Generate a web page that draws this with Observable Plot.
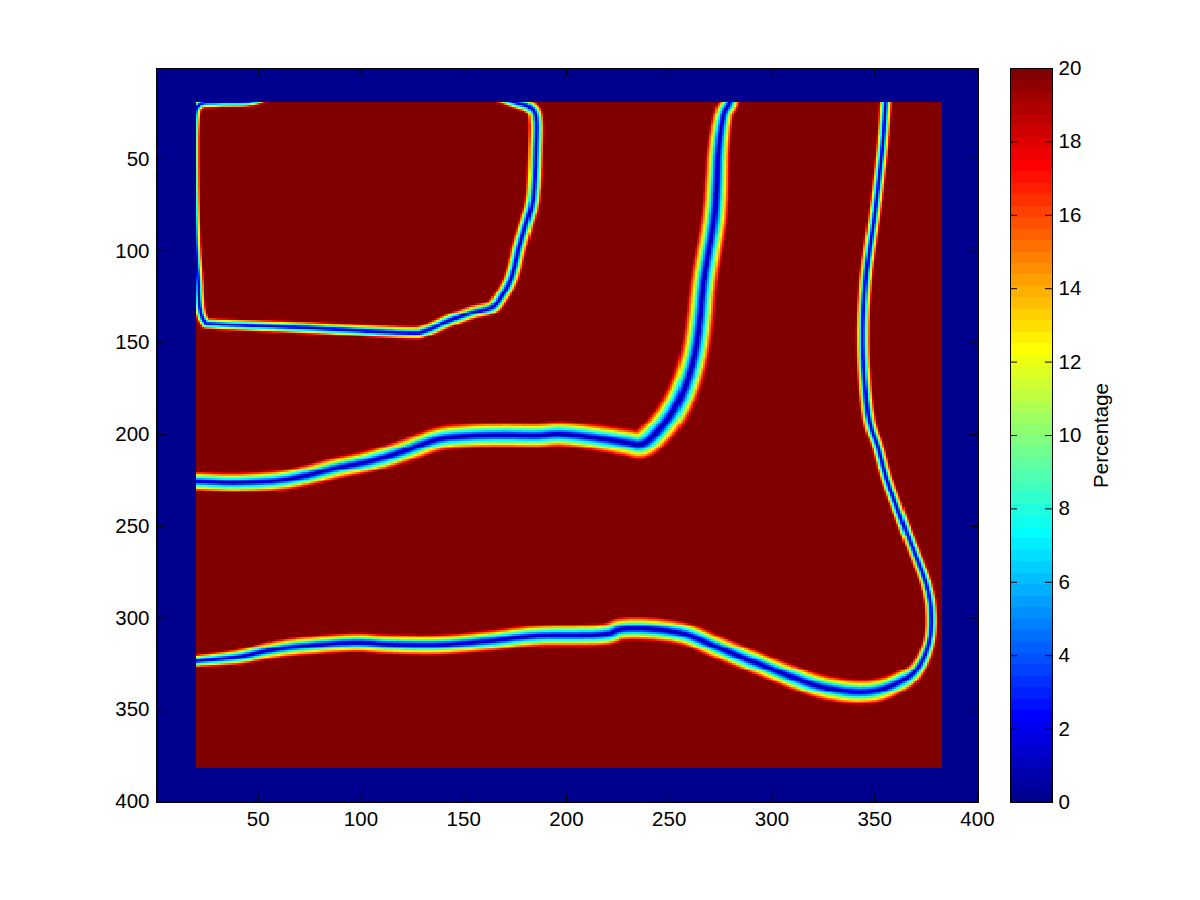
<!DOCTYPE html>
<html>
<head>
<meta charset="utf-8">
<script src="https://cdn.jsdelivr.net/npm/d3@7"></script>
<script src="https://cdn.jsdelivr.net/npm/@observablehq/plot@0.6"></script>
<style>
  body { margin: 0; background: #fff; }
  #wrap { position: relative; width: 1200px; height: 900px; background: #fff; }
  #wrap > svg { position: absolute; top: 0; }
</style>
</head>
<body>
<div id="wrap"></div>
<script>
// ---------- data ----------
const xTicks = [50, 100, 150, 200, 250, 300, 350, 400];
const yTicks = [50, 100, 150, 200, 250, 300, 350, 400];
const cbTicks = [0, 2, 4, 6, 8, 10, 12, 14, 16, 18, 20];
const valueMax = 20;
const colorbarLabel = "Percentage";

// image extent (pixel edges) and the interior region that is not 0
const imageExtent = [0.5, 400.5];
const interiorX = [19.5, 382.5];
const interiorY = [18.5, 381.5];

// band centre lines: [x, y, half-width] in image pixels
const curveTopLeft = [
  [110, 6, 3.6], [150, 9, 3.6], [165, 15, 3.6], [175, 19, 3.6], [182, 21.5, 3.8], [185, 27, 3.9],
  [185, 44, 4.0], [183.7, 71, 4.0], [180.4, 85, 4.1], [177, 98, 4.2],
  [173.2, 114.5, 4.2], [168, 125, 4.2], [163.4, 130.8, 4.2], [153.7, 133.6, 4.1],
  [142.5, 138.1, 4.1], [130.8, 143.5, 4.0], [121.1, 144.4, 3.9], [72.5, 141.7, 3.6],
  [30, 139.8, 3.3], [24, 138.5, 3.1], [21.5, 131, 3.0], [20.6, 116, 3.0],
  [19.3, 95, 3.0], [18.6, 60, 3.0], [18.8, 30, 3.0], [21, 20.5, 3.0], [30, 19, 3.1],
  [45, 18.5, 3.1], [53, 16, 3.1], [62, 10, 3.1], [80, 6, 3.6], [110, 6, 3.6]
];
const curveMiddle = [
  [5, 226, 5.5], [19.9, 225.5, 5.5], [40.2, 226.1, 5.7], [64.5, 224.3, 6.0],
  [88.8, 218, 6.4], [105, 214.3, 6.6], [121.2, 208.8, 6.8], [137.5, 202.5, 7.1],
  [153.7, 200.7, 7.3], [169.9, 200.3, 7.4], [185, 200.5, 7.4], [197.4, 199.8, 7.4],
  [213.7, 201.6, 7.6], [229.9, 204.4, 8.1], [236.4, 205.2, 8.4], [242.9, 199.8, 8.6],
  [251, 188.9, 8.6], [257.5, 174.4, 8.1], [262.3, 156.2, 7.6], [264.8, 138.1, 7.4],
  [267, 115, 7.1], [272.1, 80, 6.8], [274, 44, 5.9], [276.4, 25.5, 5.2],
  [279.4, 19, 5.1], [281, 8, 5.1]
];
const curveBottom = [
  [5, 325, 3.5], [19.9, 323.3, 3.7], [40.2, 321.1, 4.5], [56.4, 317.4, 5.1],
  [72.6, 315.1, 5.5], [96.9, 313.3, 5.7], [113.1, 314.2, 5.8], [137.5, 314.5, 5.9],
  [161.8, 312.4, 6.1], [186.1, 309.6, 6.3], [216.9, 309, 6.5], [226.6, 306, 6.7],
  [241.2, 306, 6.8], [257.5, 308.7, 6.7], [273.7, 316, 6.7], [289.9, 323.3, 6.7],
  [306.1, 330.5, 6.8], [322.4, 336.9, 7.1], [338.6, 340, 7.3], [351.6, 339.2, 7.0],
  [363, 334.2, 6.0], [371.1, 326.9, 4.5], [376.7, 312.4, 3.5], [377.5, 296, 3.4],
  [375.1, 281.5, 3.4], [370.2, 267, 3.4], [364.5, 250.7, 3.4], [359.7, 236.1, 3.4],
  [355.6, 223.4, 3.4], [351.6, 207.1, 3.4], [346.7, 188.9, 3.5], [344.3, 152.6, 3.5],
  [345.5, 116.3, 3.5], [349.9, 80, 3.4], [353.7, 43.7, 3.4], [355.3, 19, 3.4],
  [356, 5, 3.4]
];
const curves = [curveTopLeft, curveMiddle, curveBottom];

// ---------- MATLAB jet(64) colormap ----------
function jet(n) {
  const m = Math.ceil(n / 4);
  const u = [];
  for (let i = 1; i <= m; i++) u.push(i / m);
  for (let i = 1; i < m; i++) u.push(1);
  for (let i = m; i >= 1; i--) u.push(i / m);
  const g0 = Math.ceil(m / 2) - (n % 4 === 1 ? 1 : 0);
  const J = Array.from({length: n}, () => [0, 0, 0]);
  u.forEach((v, k) => {
    const g = g0 + k + 1, r = g + m, b = g - m;
    if (g >= 1 && g <= n) J[g - 1][1] = v;
    if (r >= 1 && r <= n) J[r - 1][0] = v;
    if (b >= 1 && b <= n) J[b - 1][2] = v;
  });
  return J.map(([r, g, b]) => `rgb(${Math.round(r * 255)},${Math.round(g * 255)},${Math.round(b * 255)})`);
}
const nColors = 64;
const jetColors = jet(nColors);
const thresholds = d3.range(1, nColors).map(k => k * valueMax / nColors);
const colorScale = {type: "threshold", domain: thresholds, range: jetColors};

// smooth rendering of a centre line (Catmull-Rom through the read points)
function smoothPath(pts, steps = 8) {
  const out = [], n = pts.length;
  for (let i = 0; i < n - 1; i++) {
    const p0 = pts[Math.max(i - 1, 0)], p1 = pts[i], p2 = pts[i + 1], p3 = pts[Math.min(i + 2, n - 1)];
    for (let s = 0; s < steps; s++) {
      const t = s / steps, t2 = t * t, t3 = t2 * t;
      const cr = k => 0.5 * (2 * p1[k] + (-p0[k] + p2[k]) * t + (2 * p0[k] - 5 * p1[k] + 4 * p2[k] - p3[k]) * t2 + (-p0[k] + 3 * p1[k] - 3 * p2[k] + p3[k]) * t3);
      out.push([cr(0), cr(1), p1[2] + (p2[2] - p1[2]) * t]);
    }
  }
  out.push(pts[n - 1]);
  return out;
}
const paths = curves.map(c => smoothPath(c));

// value at an image location: 0 on the band centre lines, rising to the max
function fieldValue(x, y) {
  if (x < interiorX[0] || x > interiorX[1] || y < interiorY[0] || y > interiorY[1]) return 0;
  let r = 1;
  for (const c of paths) {
    for (let i = 0; i < c.length - 1; i++) {
      const [ax, ay, aw] = c[i], [bx, by, bw] = c[i + 1];
      const mw = Math.max(aw, bw);
      if (x < Math.min(ax, bx) - mw || x > Math.max(ax, bx) + mw ||
          y < Math.min(ay, by) - mw || y > Math.max(ay, by) + mw) continue;
      const dx = bx - ax, dy = by - ay, L2 = dx * dx + dy * dy;
      let t = L2 ? ((x - ax) * dx + (y - ay) * dy) / L2 : 0;
      t = Math.max(0, Math.min(1, t));
      const d = Math.hypot(x - (ax + t * dx), y - (ay + t * dy));
      const w = aw + t * (bw - aw);
      r = Math.min(r, d / w);
    }
  }
  return valueMax * r;
}

const font = {fontFamily: "'Liberation Sans', Arial, Helvetica, sans-serif", fontSize: "20.5px", color: "black", background: "transparent", overflow: "visible"};

// ---------- main image ----------
const W = 1000, H = 900, mL = 156, mR = 22, mT = 68, mB = 98;
const FW = W - mL - mR, FH = H - mT - mB, tick = 8.5;
const main = Plot.plot({
  width: W, height: H, marginLeft: mL, marginRight: mR, marginTop: mT, marginBottom: mB,
  style: font,
  x: {domain: imageExtent},
  y: {domain: imageExtent, reverse: true},
  color: colorScale,
  marks: [
    Plot.raster({x1: imageExtent[0], x2: imageExtent[1], y1: imageExtent[0], y2: imageExtent[1],
      width: 400, height: 400, fill: fieldValue, imageRendering: "pixelated"}),
    Plot.tickX(xTicks, {x: d => d, insetTop: FH - tick, stroke: "black"}),
    Plot.tickX(xTicks, {x: d => d, insetBottom: FH - tick, stroke: "black"}),
    Plot.tickY(yTicks, {y: d => d, insetRight: FW - tick, stroke: "black"}),
    Plot.tickY(yTicks, {y: d => d, insetLeft: FW - tick, stroke: "black"}),
    Plot.axisX({ticks: xTicks, tickSize: 0, tickPadding: 9, label: null}),
    Plot.axisY({ticks: yTicks, tickSize: 0, tickPadding: 7, label: null}),
    Plot.frame({stroke: "black"})
  ]
});
main.style.left = "0px";

// ---------- colour bar ----------
const levels = d3.range(nColors).map(k => ({lo: k * valueMax / nColors, hi: (k + 1) * valueMax / nColors}));
const cW = 200, cL = 10, cR = 148, cbW = cW - cL - cR, cbTick = 7;
const bar = Plot.plot({
  width: cW, height: H, marginLeft: cL, marginRight: cR, marginTop: mT, marginBottom: mB,
  style: font,
  y: {domain: [0, valueMax]},
  color: colorScale,
  marks: [
    Plot.rect(levels, {y1: "lo", y2: "hi", fill: "lo", shapeRendering: "crispEdges"}),
    Plot.tickY(cbTicks, {y: d => d, insetRight: cbW - cbTick, stroke: "black"}),
    Plot.tickY(cbTicks, {y: d => d, insetLeft: cbW - cbTick, stroke: "black"}),
    Plot.axisY({anchor: "right", ticks: cbTicks, tickSize: 0, tickPadding: 6, label: null}),
    Plot.text([colorbarLabel], {text: d => d, frameAnchor: "right", dx: 49, rotate: -90,
      textAnchor: "middle", lineAnchor: "middle", fontSize: 20.5, fill: "black"}),
    Plot.frame({stroke: "black"})
  ]
});
bar.style.left = "1000px";

const wrap = document.getElementById("wrap");
wrap.append(main, bar);
</script>
</body>
</html>
